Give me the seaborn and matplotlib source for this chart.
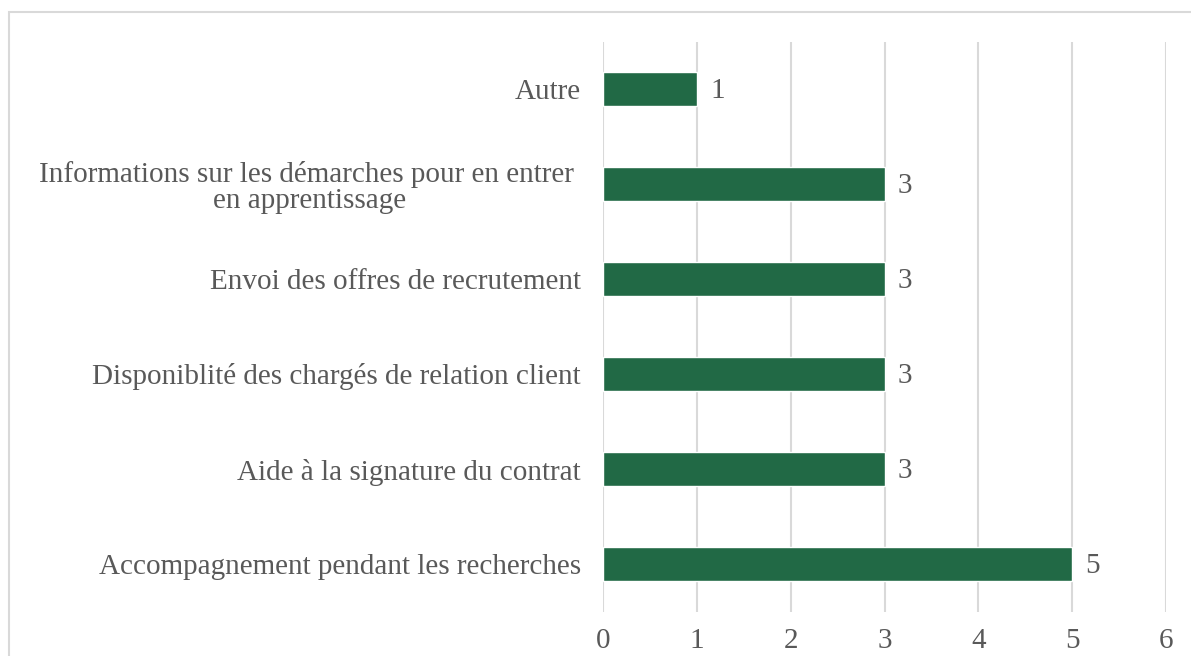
import matplotlib
matplotlib.use("Agg")
import matplotlib.pyplot as plt
import seaborn as sns
import pandas as pd
from matplotlib.patches import Rectangle

categories = [
    "Autre",
    "Informations sur les démarches pour en entrer \nen apprentissage",
    "Envoi des offres de recrutement",
    "Disponiblité des chargés de relation client",
    "Aide à la signature du contrat",
    "Accompagnement pendant les recherches",
]
counts = [1, 3, 3, 3, 3, 5]
x_ticks = [0, 1, 2, 3, 4, 5, 6]

df = pd.DataFrame({"categorie": categories, "nombre": counts})

sns.set_style("white")
plt.rcParams["font.family"] = ["Liberation Serif", "DejaVu Serif"]

text_color = "#595959"
bar_color = "#216945"

fig = plt.figure(figsize=(11.91, 6.56), dpi=100)
ax = fig.add_axes([603 / 1191, 1 - 611.5 / 656, (1166 - 603) / 1191, 570 / 656])

sns.barplot(data=df, x="nombre", y="categorie", orient="h", color=bar_color,
            width=0.35, saturation=1, ax=ax, zorder=3)

ax.set_xlim(0, 6)
ax.set_ylim(5.5, -0.5)
ax.set_xticks(x_ticks)
ax.grid(axis="x", color="#d9d9d9", linewidth=1.5, zorder=0)
ax.grid(axis="y", visible=False)
for s in ax.spines.values():
    s.set_visible(False)
ax.set_xlabel("")
ax.set_ylabel("")
ax.tick_params(axis="both", length=0, colors=text_color, labelsize=21)
ax.tick_params(axis="y", pad=16)
ax.tick_params(axis="x", pad=12)
for lbl in ax.get_yticklabels():
    lbl.set_multialignment("center")
    lbl.set_linespacing(1.0)

for i, v in enumerate(counts):
    ax.text(v + 0.14, i + 0.02, str(v), va="center", ha="left", fontsize=21, color=text_color)

fig.patches.append(Rectangle((9 / 1191, -0.1), 1.2, 1 - 12 / 656 + 0.1,
                             transform=fig.transFigure, fill=False,
                             edgecolor="#d9d9d9", linewidth=1.5))

fig.savefig("out.png", dpi=100, facecolor="white")
